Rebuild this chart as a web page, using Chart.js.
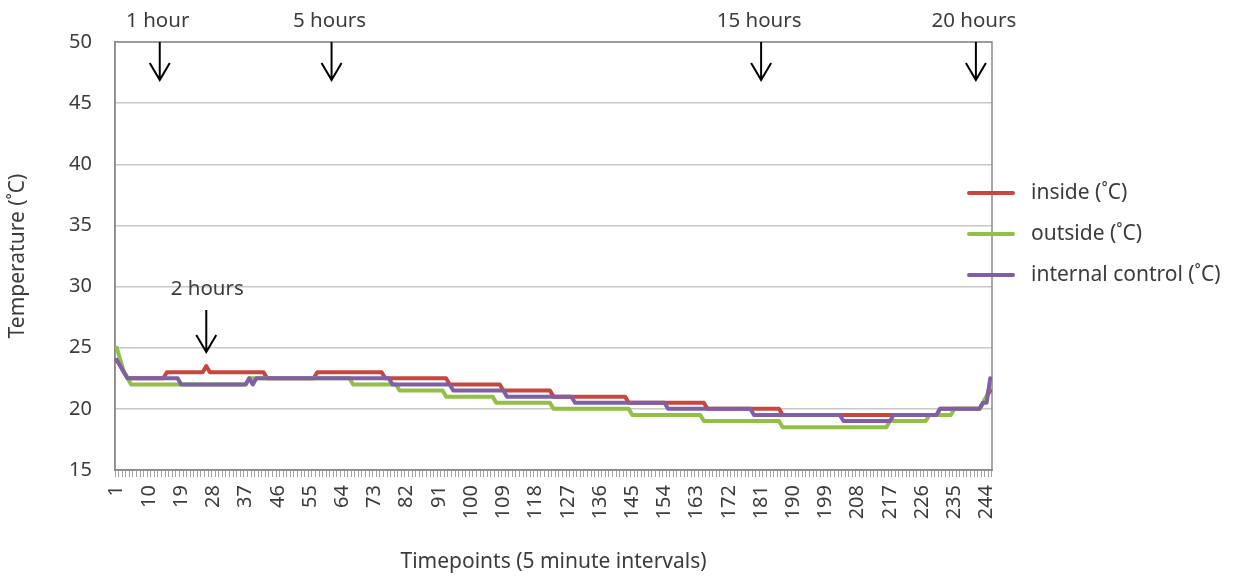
<!DOCTYPE html>
<html lang="en">
<head>
    <meta charset="UTF-8"/>
    <title>Temperature</title>
    <script src="https://cdn.jsdelivr.net/npm/chart.js"></script>
    <style>
        body { margin: 0; background: #fff; }
        .chart-container { width: 1236px; height: 578px; position: relative; }
    </style>
</head>
<body>
<div class="chart-container">
    <canvas id="myChart"></canvas>
</div>
<script>
    // timepoints 1..245 (5 minute intervals)
    var timepoints = [];
    for (var t = 1; t <= 245; t++) timepoints.push(t);

    var shownTicks = [1, 10, 19, 28, 37, 46, 55, 64, 73, 82, 91, 100, 109, 118, 127, 136, 145, 154, 163, 172, 181, 190, 199, 208, 217, 226, 235, 244];

    var inside = [
        24, 23.5, 23, 22.5, 22.5, 22.5, 22.5, 22.5, 22.5, 22.5,
        22.5, 22.5, 22.5, 22.5, 23, 23, 23, 23, 23, 23,
        23, 23, 23, 23, 23, 23.5, 23, 23, 23, 23,
        23, 23, 23, 23, 23, 23, 23, 23, 23, 23,
        23, 23, 22.5, 22.5, 22.5, 22.5, 22.5, 22.5, 22.5, 22.5,
        22.5, 22.5, 22.5, 22.5, 22.5, 22.5, 23, 23, 23, 23,
        23, 23, 23, 23, 23, 23, 23, 23, 23, 23,
        23, 23, 23, 23, 23, 22.5, 22.5, 22.5, 22.5, 22.5,
        22.5, 22.5, 22.5, 22.5, 22.5, 22.5, 22.5, 22.5, 22.5, 22.5,
        22.5, 22.5, 22.5, 22, 22, 22, 22, 22, 22, 22,
        22, 22, 22, 22, 22, 22, 22, 22, 21.5, 21.5,
        21.5, 21.5, 21.5, 21.5, 21.5, 21.5, 21.5, 21.5, 21.5, 21.5,
        21.5, 21.5, 21, 21, 21, 21, 21, 21, 21, 21,
        21, 21, 21, 21, 21, 21, 21, 21, 21, 21,
        21, 21, 21, 20.5, 20.5, 20.5, 20.5, 20.5, 20.5, 20.5,
        20.5, 20.5, 20.5, 20.5, 20.5, 20.5, 20.5, 20.5, 20.5, 20.5,
        20.5, 20.5, 20.5, 20.5, 20.5, 20, 20, 20, 20, 20,
        20, 20, 20, 20, 20, 20, 20, 20, 20, 20,
        20, 20, 20, 20, 20, 20, 19.5, 19.5, 19.5, 19.5,
        19.5, 19.5, 19.5, 19.5, 19.5, 19.5, 19.5, 19.5, 19.5, 19.5,
        19.5, 19.5, 19.5, 19.5, 19.5, 19.5, 19.5, 19.5, 19.5, 19.5,
        19.5, 19.5, 19.5, 19.5, 19.5, 19.5, 19.5, 19.5, 19.5, 19.5,
        19.5, 19.5, 19.5, 19.5, 19.5, 19.5, 19.5, 19.5, 19.5, 19.5,
        20, 20, 20, 20, 20, 20, 20, 20, 20, 20,
        20, 20, 20.5, 21, 21.5
    ];

    var outside = [
        25, 24, 23, 22.5, 22, 22, 22, 22, 22, 22,
        22, 22, 22, 22, 22, 22, 22, 22, 22, 22,
        22, 22, 22, 22, 22, 22, 22, 22, 22, 22,
        22, 22, 22, 22, 22, 22, 22, 22.5, 22.5, 22.5,
        22.5, 22.5, 22.5, 22.5, 22.5, 22.5, 22.5, 22.5, 22.5, 22.5,
        22.5, 22.5, 22.5, 22.5, 22.5, 22.5, 22.5, 22.5, 22.5, 22.5,
        22.5, 22.5, 22.5, 22.5, 22.5, 22.5, 22, 22, 22, 22,
        22, 22, 22, 22, 22, 22, 22, 22, 22, 21.5,
        21.5, 21.5, 21.5, 21.5, 21.5, 21.5, 21.5, 21.5, 21.5, 21.5,
        21.5, 21.5, 21, 21, 21, 21, 21, 21, 21, 21,
        21, 21, 21, 21, 21, 21, 20.5, 20.5, 20.5, 20.5,
        20.5, 20.5, 20.5, 20.5, 20.5, 20.5, 20.5, 20.5, 20.5, 20.5,
        20.5, 20.5, 20, 20, 20, 20, 20, 20, 20, 20,
        20, 20, 20, 20, 20, 20, 20, 20, 20, 20,
        20, 20, 20, 20, 19.5, 19.5, 19.5, 19.5, 19.5, 19.5,
        19.5, 19.5, 19.5, 19.5, 19.5, 19.5, 19.5, 19.5, 19.5, 19.5,
        19.5, 19.5, 19.5, 19.5, 19, 19, 19, 19, 19, 19,
        19, 19, 19, 19, 19, 19, 19, 19, 19, 19,
        19, 19, 19, 19, 19, 19, 18.5, 18.5, 18.5, 18.5,
        18.5, 18.5, 18.5, 18.5, 18.5, 18.5, 18.5, 18.5, 18.5, 18.5,
        18.5, 18.5, 18.5, 18.5, 18.5, 18.5, 18.5, 18.5, 18.5, 18.5,
        18.5, 18.5, 18.5, 18.5, 18.5, 18.5, 19, 19, 19, 19,
        19, 19, 19, 19, 19, 19, 19, 19.5, 19.5, 19.5,
        19.5, 19.5, 19.5, 19.5, 20, 20, 20, 20, 20, 20,
        20, 20, 20.5, 21, 22
    ];

    var internalControl = [
        24, 23.5, 23, 22.5, 22.5, 22.5, 22.5, 22.5, 22.5, 22.5,
        22.5, 22.5, 22.5, 22.5, 22.5, 22.5, 22.5, 22.5, 22, 22,
        22, 22, 22, 22, 22, 22, 22, 22, 22, 22,
        22, 22, 22, 22, 22, 22, 22, 22.5, 22, 22.5,
        22.5, 22.5, 22.5, 22.5, 22.5, 22.5, 22.5, 22.5, 22.5, 22.5,
        22.5, 22.5, 22.5, 22.5, 22.5, 22.5, 22.5, 22.5, 22.5, 22.5,
        22.5, 22.5, 22.5, 22.5, 22.5, 22.5, 22.5, 22.5, 22.5, 22.5,
        22.5, 22.5, 22.5, 22.5, 22.5, 22.5, 22.5, 22, 22, 22,
        22, 22, 22, 22, 22, 22, 22, 22, 22, 22,
        22, 22, 22, 22, 21.5, 21.5, 21.5, 21.5, 21.5, 21.5,
        21.5, 21.5, 21.5, 21.5, 21.5, 21.5, 21.5, 21.5, 21.5, 21,
        21, 21, 21, 21, 21, 21, 21, 21, 21, 21,
        21, 21, 21, 21, 21, 21, 21, 21, 20.5, 20.5,
        20.5, 20.5, 20.5, 20.5, 20.5, 20.5, 20.5, 20.5, 20.5, 20.5,
        20.5, 20.5, 20.5, 20.5, 20.5, 20.5, 20.5, 20.5, 20.5, 20.5,
        20.5, 20.5, 20.5, 20.5, 20, 20, 20, 20, 20, 20,
        20, 20, 20, 20, 20, 20, 20, 20, 20, 20,
        20, 20, 20, 20, 20, 20, 20, 20, 19.5, 19.5,
        19.5, 19.5, 19.5, 19.5, 19.5, 19.5, 19.5, 19.5, 19.5, 19.5,
        19.5, 19.5, 19.5, 19.5, 19.5, 19.5, 19.5, 19.5, 19.5, 19.5,
        19.5, 19.5, 19.5, 19, 19, 19, 19, 19, 19, 19,
        19, 19, 19, 19, 19, 19, 19, 19.5, 19.5, 19.5,
        19.5, 19.5, 19.5, 19.5, 19.5, 19.5, 19.5, 19.5, 19.5, 19.5,
        20, 20, 20, 20, 20, 20, 20, 20, 20, 20,
        20, 20, 20.5, 20.5, 22.5
    ];

    // time markers: label and the timepoint they point at
    var topMarkers = [
        { text: '1 hour', at: 13 },
        { text: '5 hours', at: 61 },
        { text: '15 hours', at: 181 },
        { text: '20 hours', at: 241 }
    ];
    var lowMarker = { text: '2 hours', at: 26 };

    var RED = '#c9463d';
    var GREEN = '#92c046';
    var PURPLE = '#7f60a8';
    var TEXT = '#3c3c3c';
    var FONT = '"Noto Sans", sans-serif';

    Chart.defaults.font.family = FONT;
    Chart.defaults.color = TEXT;

    function drawArrow(ctx, x, y1, y2) {
        ctx.beginPath();
        ctx.moveTo(x, y1);
        ctx.lineTo(x, y2);
        ctx.moveTo(x - 10, y2 - 17);
        ctx.lineTo(x, y2);
        ctx.lineTo(x + 10, y2 - 17);
        ctx.stroke();
    }

    var extrasPlugin = {
        id: 'extras',
        beforeDatasetsDraw: function (chart) {
            var ctx = chart.ctx, a = chart.chartArea;
            ctx.save();
            ctx.strokeStyle = '#8a8a8a';
            ctx.lineWidth = 1.5;
            ctx.strokeRect(a.left, a.top, a.right - a.left, a.bottom - a.top);
            ctx.restore();
        },
        afterDraw: function (chart) {
            var ctx = chart.ctx, a = chart.chartArea;
            var xs = chart.scales.x, ys = chart.scales.y;
            ctx.save();
            ctx.fillStyle = TEXT;
            ctx.strokeStyle = '#000';
            ctx.lineWidth = 2;
            ctx.font = '20.5px ' + FONT;
            ctx.textAlign = 'center';
            ctx.textBaseline = 'middle';

            topMarkers.forEach(function (m) {
                var x = xs.getPixelForValue(m.at - 1);
                ctx.fillText(m.text, x - 2, a.top - 21);
                drawArrow(ctx, x, a.top, a.top + 38);
            });

            var lx = xs.getPixelForValue(lowMarker.at - 1);
            var tip = ys.getPixelForValue(inside[lowMarker.at - 1]) - 14;
            drawArrow(ctx, lx, tip - 42, tip);
            ctx.fillText(lowMarker.text, lx + 1, tip - 63);

            // axis titles
            ctx.font = '21px ' + FONT;
            ctx.fillText('Timepoints (5 minute intervals)', (a.left + a.right) / 2, 562);
            ctx.save();
            ctx.translate(18, (a.top + a.bottom) / 2);
            ctx.rotate(-Math.PI / 2);
            ctx.fillText('Temperature (\u02daC)', 0, 0);
            ctx.restore();

            // legend
            ctx.font = '21px ' + FONT;
            ctx.textAlign = 'left';
            ctx.lineCap = 'round';
            ctx.lineWidth = 4;
            chart.data.datasets.forEach(function (ds, i) {
                var y = 193 + i * 41;
                ctx.strokeStyle = ds.borderColor;
                ctx.beginPath();
                ctx.moveTo(969, y);
                ctx.lineTo(1013, y);
                ctx.stroke();
                ctx.fillText(ds.label, 1031, y);
            });
            ctx.restore();
        }
    };

    var ctx = document.getElementById('myChart').getContext('2d');
    var myChart = new Chart(ctx, {
        type: 'line',
        data: {
            labels: timepoints,
            datasets: [
                { label: 'inside (\u02daC)', data: inside, borderColor: RED, order: 3 },
                { label: 'outside (\u02daC)', data: outside, borderColor: GREEN, order: 2 },
                { label: 'internal control (\u02daC)', data: internalControl, borderColor: PURPLE, order: 1 }
            ]
        },
        options: {
            responsive: true,
            maintainAspectRatio: false,
            animation: false,
            layout: { padding: { top: 42, right: 244, bottom: 0, left: 0 } },
            elements: {
                line: { borderWidth: 4, tension: 0, borderJoinStyle: 'round', borderCapStyle: 'round' },
                point: { radius: 0, hoverRadius: 0 }
            },
            plugins: {
                legend: { display: false },
                tooltip: { enabled: false }
            },
            scales: {
                x: {
                    offset: true,
                    grid: { offset: true, drawOnChartArea: false, color: '#a0a0a0', tickLength: 7 },
                    border: { color: '#8a8a8a', width: 1.5 },
                    ticks: {
                        autoSkip: false,
                        minRotation: 90,
                        maxRotation: 90,
                        padding: 8,
                        color: TEXT,
                        font: { size: 20 },
                        callback: function (value, index) {
                            var lab = timepoints[index];
                            return shownTicks.indexOf(lab) >= 0 ? String(lab) : '';
                        }
                    },
                    afterFit: function (scale) { scale.height = 108; }
                },
                y: {
                    min: 15,
                    max: 50,
                    grid: { color: '#c8c8c8', lineWidth: 1.5, drawTicks: false },
                    border: { color: '#8a8a8a', width: 1.5 },
                    ticks: {
                        stepSize: 5,
                        padding: 23,
                        color: TEXT,
                        font: { size: 20 }
                    },
                    afterFit: function (scale) { scale.width = 115; }
                }
            }
        },
        plugins: [extrasPlugin]
    });
</script>
</body>
</html>
